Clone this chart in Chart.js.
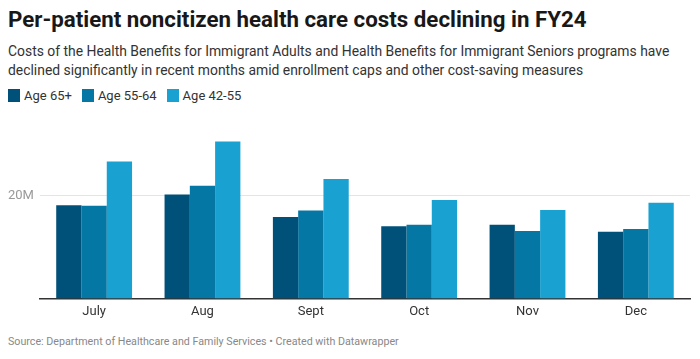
<!DOCTYPE html>
<html>
<head>
<meta charset="utf-8">
<script src="https://cdn.jsdelivr.net/npm/chart.js@4/dist/chart.umd.min.js"></script>
<style>
  html, body { margin: 0; padding: 0; background: #fff; }
  body { width: 700px; height: 359px; position: relative; overflow: hidden; font-family: Roboto, "Noto Sans", sans-serif; }
  #title { position: absolute; left: 8px; top: 6px; font-size: 22.3px; font-weight: 700; color: #181818; white-space: nowrap; }
  #subtitle { position: absolute; left: 8px; top: 42px; font-size: 13.9px; color: #333; line-height: 19px; width: 690px; }
  #legend { position: absolute; left: 8px; top: 88px; font-size: 13px; color: #333; display: flex; }
  .item { display: flex; align-items: center; margin-right: 10px; }
  .sw { width: 12px; height: 13px; margin-right: 4px; }
  #footer { position: absolute; left: 8px; top: 335px; font-size: 10.7px; color: #888; white-space: nowrap; }
  #wrap { position: absolute; left: 0; top: 122px; width: 700px; height: 204px; }
</style>
</head>
<body>
<div id="title">Per-patient noncitizen health care costs declining in FY24</div>
<div id="subtitle">Costs of the Health Benefits for Immigrant Adults and Health Benefits for Immigrant Seniors programs have declined significantly in recent months amid enrollment caps and other cost-saving measures</div>
<div id="legend"></div>
<div id="wrap"><canvas id="c"></canvas></div>
<div id="footer">Source: Department of Healthcare and Family Services • Created with Datawrapper</div>
<script>
const months = ["July", "Aug", "Sept", "Oct", "Nov", "Dec"];
const seriesNames = ["Age 65+", "Age 55-64", "Age 42-55"];
const age65plus = [18.1, 20.2, 15.8, 14.0, 14.3, 12.95];
const age55to64 = [18.0, 21.9, 17.1, 14.3, 13.1, 13.5];
const age42to55 = [26.6, 30.5, 23.2, 19.1, 17.2, 18.6];
const yTicks = [20];
const colors = ["#00517a", "#0477a4", "#19a2d1"];

const values = [age65plus, age55to64, age42to55];
const legend = document.getElementById('legend');
seriesNames.forEach((n, i) => {
  const d = document.createElement('div'); d.className = 'item';
  d.innerHTML = '<span class="sw" style="background:' + colors[i] + '"></span><span>' + n + '</span>';
  legend.appendChild(d);
});

new Chart(document.getElementById('c'), {
  type: 'bar',
  data: {
    labels: months,
    datasets: seriesNames.map((n, i) => ({
      label: n, data: values[i], backgroundColor: colors[i],
      categoryPercentage: 0.7, barPercentage: 1.0, borderWidth: 0
    }))
  },
  options: {
    responsive: true, maintainAspectRatio: false, animation: false,
    layout: { padding: { left: 2, right: 10, top: 0, bottom: 0 } },
    plugins: { legend: { display: false }, tooltip: { enabled: false } },
    scales: {
      x: {
        grid: { display: false, drawTicks: false },
        border: { display: true, color: '#333', width: 1.5 },
        ticks: { color: '#333', font: { family: 'Roboto', size: 13 }, padding: 6 }
      },
      y: {
        min: 0, max: 31.6,
        afterBuildTicks: (axis) => { axis.ticks = yTicks.map(v => ({ value: v })); },
        grid: { color: '#e4e4e4', drawTicks: false },
        border: { display: false },
        ticks: { color: '#999', font: { family: 'Roboto', size: 13 }, padding: 6,
                 callback: (v) => v + 'M' }
      }
    }
  }
});
</script>
</body>
</html>
